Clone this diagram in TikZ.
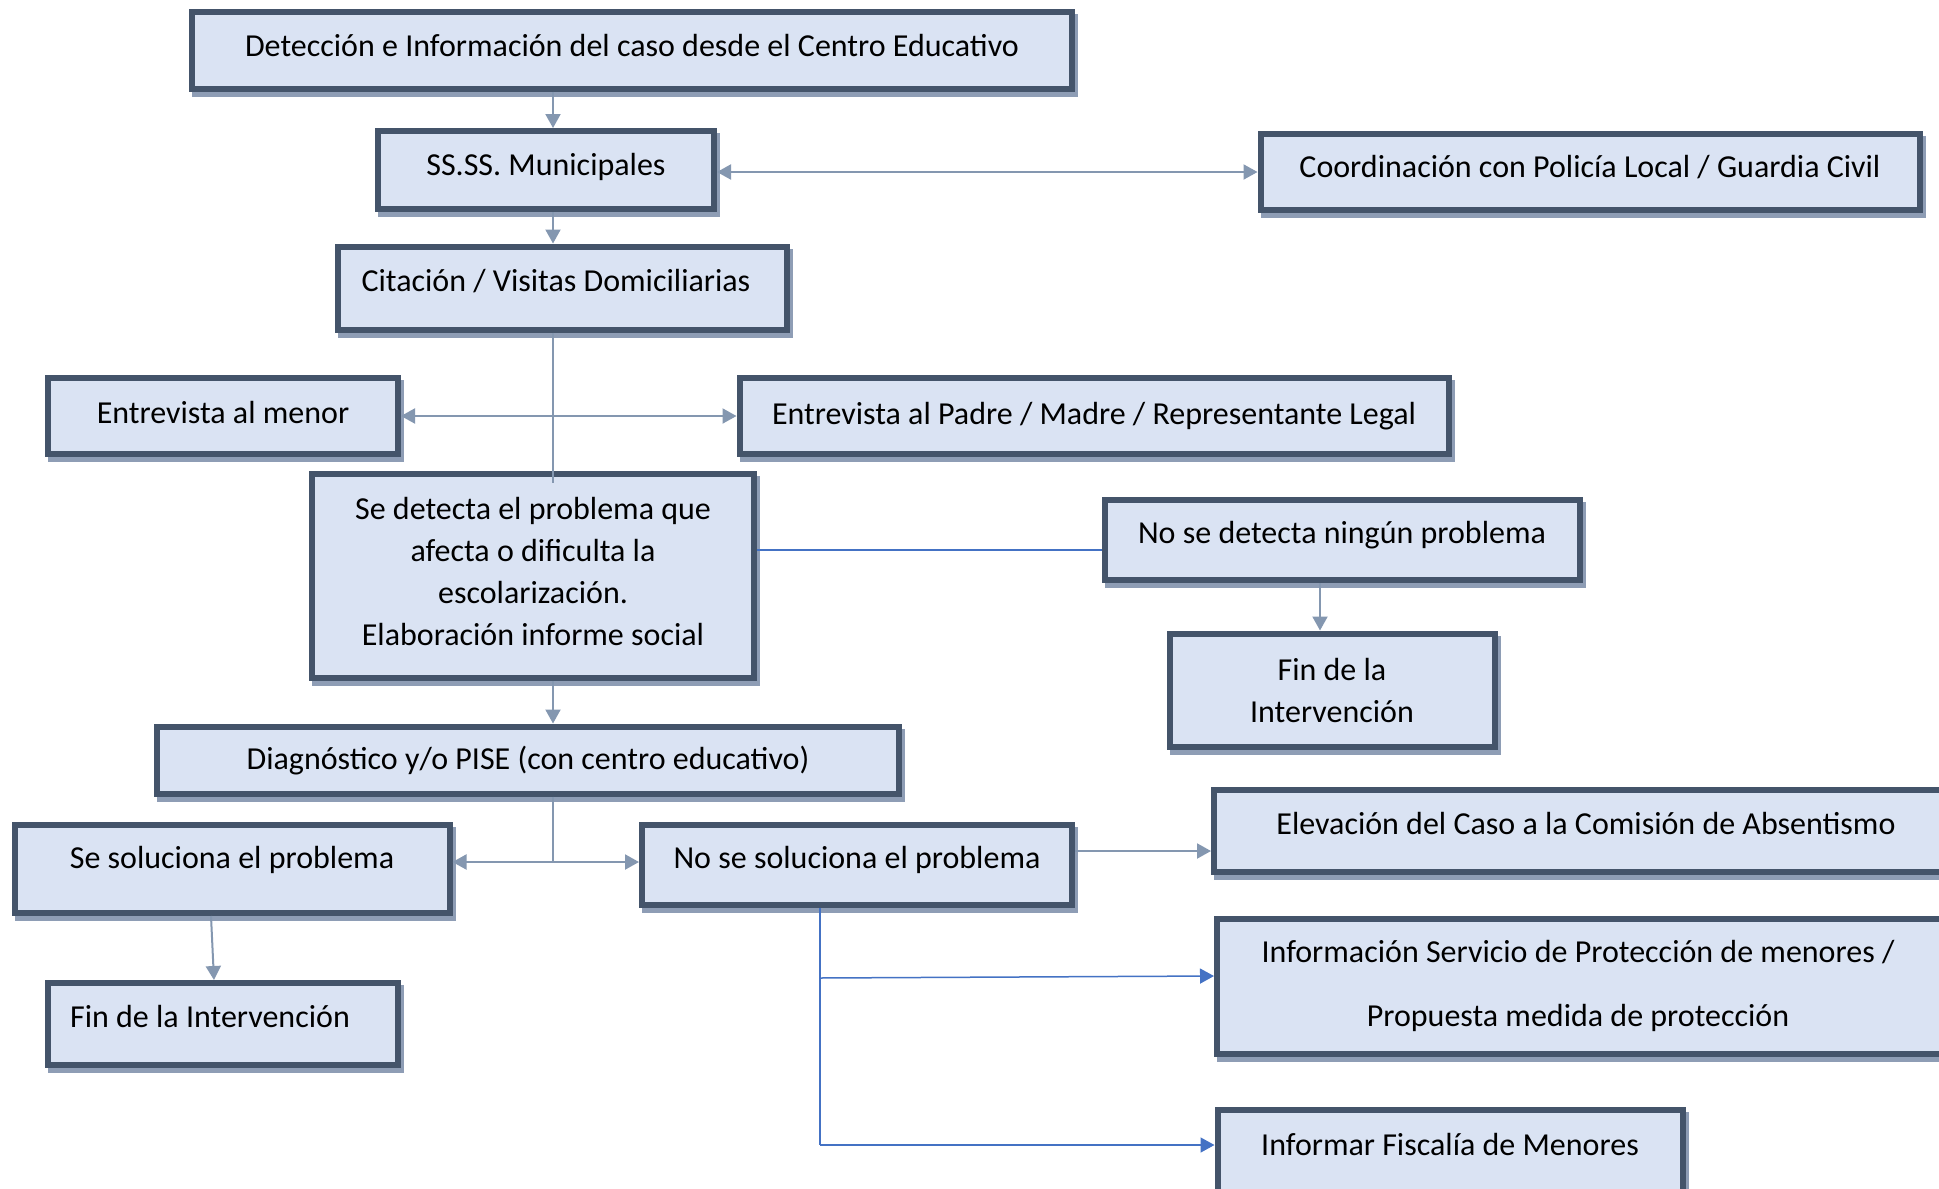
\documentclass[tikz,border=0pt]{standalone}
\usepackage{fontspec}
\setmainfont{Carlito}
\usetikzlibrary{arrows.meta,positioning,shadows}
\definecolor{fondo}{HTML}{DAE3F3}
\definecolor{borde}{HTML}{44546A}
\definecolor{sombra}{HTML}{8E9DB5}
\definecolor{grisf}{HTML}{8497B0}
\definecolor{azulf}{HTML}{4472C4}

\begin{document}
\begin{tikzpicture}[x=1pt, y=-1pt,
    caja/.style={draw=borde, fill=fondo, line width=6pt, align=center, inner sep=0pt,
        font=\fontsize{32}{42}\selectfont,
        drop shadow={shadow xshift=3pt, shadow yshift=-5pt, fill=sombra, draw=sombra, line width=6pt, opacity=1}},
    una/.style={text height=22pt, text depth=#1},
    una/.default=16pt,
    flecha/.style={-{Triangle[length=14pt,width=15pt]}, draw=grisf, line width=2pt},
    doble/.style={{Triangle[length=14pt,width=15pt]}-{Triangle[length=14pt,width=15pt]}, draw=grisf, line width=2pt},
    linea/.style={draw=grisf, line width=2pt},
    azul/.style={draw=azulf, line width=1.5pt},
    flechaazul/.style={-{Triangle[length=14pt,width=15pt]}, draw=azulf, line width=1.5pt}
]
\fill[white] (0,0) rectangle (1939,1189);
\useasboundingbox (0,0) rectangle (1939,1189);

\node[caja, una=10pt, minimum width=880pt, minimum height=77pt] (det) at (632,50) {Detección e Información del caso desde el Centro Educativo};
\node[caja, una=11pt, minimum width=336pt, minimum height=78pt] (ssss) at (546,170) {SS.SS. Municipales};
\node[caja, una=11pt, minimum width=659pt, minimum height=76pt] (coord) at (1590,172) {Coordinación con Policía Local / Guardia Civil};
\node[caja, una, minimum width=449pt, minimum height=83pt] (cita) at (562,288) {Citación / Visitas Domiciliarias\hspace*{12pt}};

\node[caja, una=8pt, minimum width=350pt, minimum height=76pt] (menor) at (223,416) {Entrevista al menor};
\node[caja, una=6pt, minimum width=709pt, minimum height=76pt] (padres) at (1094,416) {Entrevista al Padre / Madre / Representante Legal};

\node[caja, text depth=10pt, minimum width=442pt, minimum height=204pt] (detecta) at (533,576) {Se detecta el problema que\\afecta o dificulta la\\escolarización.\\Elaboración informe social};
\node[caja, una, minimum width=475pt, minimum height=80pt] (nodetecta) at (1342,540) {No se detecta ningún problema};
\node[caja, minimum width=325pt, minimum height=113pt] (finder) at (1332,690) {Fin de la\\Intervención};

\node[caja, una=4pt, minimum width=742pt, minimum height=67pt] (diag) at (528,760) {Diagnóstico y/o PISE (con centro educativo)};
\node[caja, una=24pt, minimum width=435pt, minimum height=88pt] (soluciona) at (232,869) {Se soluciona el problema};
\node[caja, una, minimum width=430pt, minimum height=80pt] (nosoluciona) at (857,865) {No se soluciona el problema};
\node[caja, una, minimum width=350pt, minimum height=82pt] (finizq) at (223,1024) {Fin de la Intervención\hspace*{26pt}};

\node[caja, una, minimum width=744pt, minimum height=82pt] (elevacion) at (1586,831) {Elevación del Caso a la Comisión de Absentismo};
\node[caja, minimum width=744pt, minimum height=135pt] (proteccion) at (1589,986) {Información Servicio de Protección de menores /\hspace*{22pt}\\[22pt]Propuesta medida de protección\hspace*{22pt}};
\node[caja, una, minimum width=465pt, minimum height=84pt] (fiscalia) at (1450,1152) {Informar Fiscalía de Menores};

% ejes de las conexiones
\coordinate (eje) at (553,0);
\coordinate (cruce) at (553,862);
\coordinate (rama) at (820,1145);
\coordinate (nd) at ([yshift=-10pt]nodetecta.west);

\draw[flecha] (det.south -| eje) -- (ssss.north -| eje);
\draw[doble] (ssss.east |- coord.west) -- (coord.west);
\draw[flecha] (ssss.south -| eje) -- (cita.north -| eje);
\draw[linea] (cita.south -| eje) -- ([yshift=-12pt]detecta.north -| eje);
\draw[doble] (menor.east) -- (padres.west);

\draw[azul] (detecta.east |- nd) -- (nd);
\draw[flecha] ([xshift=-22pt]nodetecta.south) -- ([xshift=-12pt]finder.north);

\draw[flecha] (detecta.south -| eje) -- (diag.north -| eje);
\draw[linea] (diag.south -| eje) -- (cruce);
\draw[doble] (soluciona.east |- cruce) -- (nosoluciona.west |- cruce);
\draw[flecha] ([xshift=-21pt]soluciona.south) -- ([xshift=-9pt]finizq.north);

\draw[flecha] ([yshift=14pt]nosoluciona.east) -- (elevacion.west |- 0,851);
\draw[azul] (nosoluciona.south -| rama) -- (rama);
\draw[flechaazul] (rama |- 0,978) -- ([yshift=10pt]proteccion.west);
\draw[flechaazul] (rama) -- (fiscalia.west |- rama);
\end{tikzpicture}
\end{document}
